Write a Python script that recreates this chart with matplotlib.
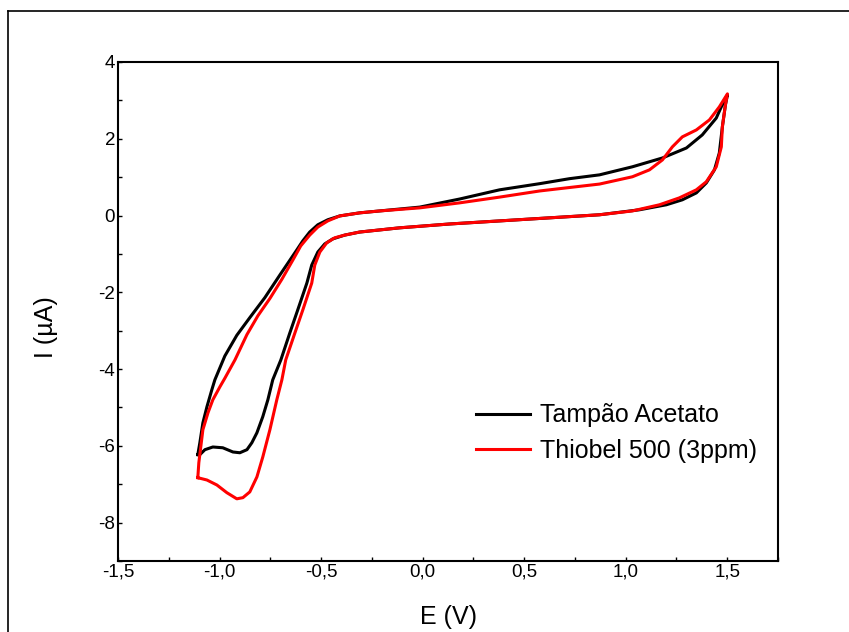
import matplotlib
matplotlib.use('Agg')
import matplotlib.pyplot as plt
from matplotlib.lines import Line2D
from matplotlib.ticker import MultipleLocator

plt.rcParams['font.family'] = ['Liberation Sans', 'DejaVu Sans']

# Tampão Acetato: ida (ramo superior) e volta (ramo inferior)
e_tampao = [-1.107, -1.097, -1.082, -1.062, -1.038, -1.023, -0.974, -0.915, -0.851, -0.777,
            -0.703, -0.620, -0.590, -0.556, -0.516, -0.467, -0.408, -0.310, -0.211, -0.014,
            0.182, 0.379, 0.576, 0.723, 0.871, 1.033, 1.181, 1.299, 1.377, 1.446, 1.486, 1.501,
            1.491, 1.476, 1.461, 1.437, 1.397, 1.348, 1.279, 1.200, 1.068, 0.871, 0.625, 0.379,
            0.133, -0.113, -0.310, -0.384, -0.443, -0.482, -0.516, -0.546, -0.570, -0.615,
            -0.654, -0.698, -0.738, -0.762, -0.787, -0.816, -0.841, -0.865, -0.900, -0.934,
            -0.984, -1.033, -1.072, -1.097, -1.107]
i_tampao = [-6.23, -5.92, -5.40, -4.98, -4.54, -4.28, -3.66, -3.12, -2.66, -2.14,
            -1.55, -0.90, -0.66, -0.43, -0.24, -0.11, -0.01, 0.07, 0.12, 0.22,
            0.43, 0.67, 0.83, 0.96, 1.06, 1.27, 1.50, 1.76, 2.10, 2.54, 3.01, 3.14,
            2.88, 2.31, 1.63, 1.19, 0.85, 0.59, 0.41, 0.28, 0.15, 0.02, -0.06, -0.14,
            -0.22, -0.32, -0.43, -0.51, -0.61, -0.74, -0.95, -1.29, -1.76, -2.46,
            -3.06, -3.76, -4.28, -4.80, -5.24, -5.66, -5.92, -6.10, -6.18, -6.16,
            -6.05, -6.03, -6.10, -6.23, -6.23]

# Thiobel 500 (3ppm)
e_thiobel = [-1.107, -1.102, -1.082, -1.057, -1.033, -0.998, -0.974, -0.924, -0.865, -0.811,
             -0.752, -0.693, -0.639, -0.600, -0.556, -0.516, -0.467, -0.408, -0.310, -0.211,
             -0.014, 0.182, 0.379, 0.576, 0.723, 0.871, 1.033, 1.117, 1.181, 1.230, 1.279,
             1.348, 1.412, 1.461, 1.501,
             1.491, 1.476, 1.471, 1.446, 1.397, 1.348, 1.264, 1.166, 1.033, 0.871, 0.625,
             0.379, 0.133, -0.113, -0.310, -0.384, -0.433, -0.472, -0.506, -0.531, -0.546,
             -0.590, -0.629, -0.674, -0.693, -0.718, -0.752, -0.787, -0.816, -0.851, -0.885,
             -0.915, -0.964, -1.013, -1.062, -1.107]
i_thiobel = [-6.83, -6.44, -5.58, -5.14, -4.80, -4.46, -4.24, -3.76, -3.10, -2.61,
             -2.16, -1.66, -1.16, -0.79, -0.51, -0.30, -0.14, -0.01, 0.07, 0.12,
             0.20, 0.33, 0.48, 0.64, 0.73, 0.82, 1.01, 1.19, 1.45, 1.79, 2.05,
             2.23, 2.49, 2.83, 3.17,
             2.88, 2.31, 1.79, 1.27, 0.88, 0.67, 0.46, 0.28, 0.12, 0.02, -0.06,
             -0.14, -0.22, -0.32, -0.43, -0.51, -0.58, -0.71, -0.95, -1.29, -1.76,
             -2.46, -3.06, -3.76, -4.28, -4.80, -5.58, -6.29, -6.81, -7.20, -7.35,
             -7.38, -7.22, -7.02, -6.89, -6.83]

x_ticks = [-1.5, -1.0, -0.5, 0.0, 0.5, 1.0, 1.5]
x_labels = ['-1,5', '-1,0', '-0,5', '0,0', '0,5', '1,0', '1,5']
y_ticks = [-8, -6, -4, -2, 0, 2, 4]
y_labels = ['-8', '-6', '-4', '-2', '0', '2', '4']

fig = plt.figure(figsize=(8.49, 6.32), dpi=100)
ax = fig.add_axes([118 / 849, 1 - 561 / 632, 660 / 849, 499 / 632])

ax.plot(e_tampao, i_tampao, color='black', lw=2.2, label='Tampão Acetato',
        solid_joinstyle='round')
ax.plot(e_thiobel, i_thiobel, color='#ff0000', lw=2.2, label='Thiobel 500 (3ppm)',
        solid_joinstyle='round')

ax.set_xlim(-1.5, 1.75)
ax.set_ylim(-9, 4)
ax.set_xticks(x_ticks)
ax.set_xticklabels(x_labels)
ax.set_yticks(y_ticks)
ax.set_yticklabels(y_labels)
ax.xaxis.set_minor_locator(MultipleLocator(0.25))
ax.yaxis.set_minor_locator(MultipleLocator(1))
ax.tick_params(which='both', direction='in', length=3, width=1, labelsize=13.5, pad=2)

for s in ax.spines.values():
    s.set_linewidth(1.5)

ax.set_xlabel('E (V)', fontsize=18)
ax.set_ylabel('I (µA)', fontsize=18)
ax.xaxis.set_label_coords(0.5, -0.088)
ax.yaxis.set_label_coords(-0.091, 0.469)

ax.legend(loc='upper left', bbox_to_anchor=(0.542, 0.316), frameon=False, fontsize=18,
          borderpad=0, handlelength=2.16, handletextpad=0.4, labelspacing=0.45,
          borderaxespad=0)

# moldura externa (topo e esquerda)
fig.add_artist(Line2D([8 / 849, 8 / 849], [0, 1 - 11 / 632], color='black', lw=1.2))
fig.add_artist(Line2D([8 / 849, 1], [1 - 11 / 632, 1 - 11 / 632], color='black', lw=1.2))

fig.savefig('out.png', dpi=100)
